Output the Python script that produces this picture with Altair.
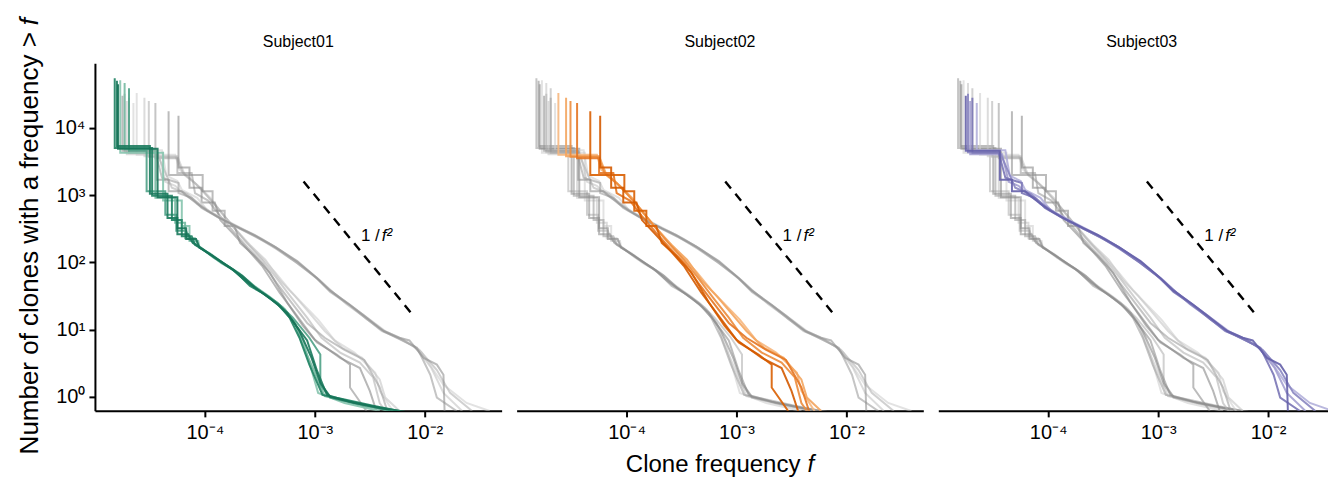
import altair as alt
import pandas as pd

SUBJECTS = ["Subject01", "Subject02", "Subject03"]

# ---- Subject01 replicates (log10 f, log10 N), light first, dark last ----
S01_LOGF = [
    [-4.77, -4.77, -4.38, -4.38, -4.21, -4.21, -4.14, -4.14, -4.06, -4.05, -3.95, -3.82, -3.68, -3.55, -3.41, -3.27, -3.16, -3.09, -3.03, -2.97, -2.73, -2.41],
    [-4.73, -4.73, -4.45, -4.45, -4.27, -4.27, -4.18, -4.18, -4.09, -4.06, -3.97, -3.85, -3.70, -3.57, -3.43, -3.29, -3.18, -3.12, -3.00, -2.91, -2.59, -2.32],
    [-4.69, -4.69, -4.53, -4.53, -4.36, -4.36, -4.26, -4.26, -4.17, -4.14, -4.05, -3.92, -3.77, -3.63, -3.48, -3.34, -3.20, -3.05, -2.95, -2.95, -2.86, -2.55, -2.27],
    [-4.82, -4.82, -4.48, -4.48, -4.30, -4.30, -4.21, -4.21, -4.12, -4.09, -4.00, -3.86, -3.73, -3.59, -3.45, -3.32, -3.23, -3.14, -3.05, -2.93, -2.75, -2.47, -2.23],
    [-4.80, -4.80, -4.50, -4.50, -4.34, -4.34, -4.25, -4.25, -4.15, -4.11, -4.02, -3.88, -3.75, -3.61, -3.48, -3.34, -3.21, -3.07, -2.98, -2.89, -2.68, -2.41, -2.18],
    [-4.79, -4.79, -4.43, -4.43, -4.25, -4.25, -4.17, -4.17, -4.08, -4.05, -3.94, -3.81, -3.66, -3.54, -3.41, -3.25, -3.14, -3.03, -2.95, -2.86, -2.64, -2.32],
]
S01_LOGN = [
    [4.71, 3.63, 3.63, 2.92, 2.92, 2.54, 2.54, 2.32, 2.32, 2.22, 2.13, 1.98, 1.83, 1.65, 1.49, 1.30, 1.03, 0.73, 0.40, 0.06, -0.09, -0.21],
    [4.67, 3.68, 3.68, 2.96, 2.96, 2.59, 2.59, 2.36, 2.36, 2.25, 2.14, 1.99, 1.85, 1.67, 1.50, 1.33, 1.10, 0.81, 0.36, 0.01, -0.10, -0.21],
    [4.59, 3.66, 3.66, 3.06, 3.06, 2.71, 2.71, 2.47, 2.47, 2.34, 2.23, 2.07, 1.92, 1.73, 1.56, 1.40, 1.18, 0.88, 0.63, 0.18, -0.01, -0.13, -0.22],
    [4.74, 3.70, 3.70, 2.99, 2.99, 2.63, 2.63, 2.39, 2.39, 2.26, 2.17, 2.02, 1.88, 1.65, 1.52, 1.36, 1.18, 0.88, 0.48, 0.03, -0.03, -0.13, -0.21],
    [4.70, 3.73, 3.73, 3.02, 3.02, 2.66, 2.66, 2.42, 2.42, 2.29, 2.20, 2.04, 1.90, 1.70, 1.55, 1.38, 1.15, 0.84, 0.39, 0.03, -0.07, -0.16, -0.22],
    [4.65, 3.69, 3.69, 2.97, 2.97, 2.51, 2.51, 2.35, 2.35, 2.22, 2.11, 1.96, 1.80, 1.62, 1.47, 1.25, 0.98, 0.58, 0.21, 0.00, -0.09, -0.19],
]
S01_COLORS = ["#86c4ae", "#74b9a1", "#4ea186", "#1f8263", "#1b7a5d", "#167358"]

# ---- Subject02 ----
S02_LOGF = [
    [-4.62, -4.62, -4.27, -4.23, -4.12, -4.00, -3.89, -3.77, -3.64, -3.50, -3.36, -3.23, -3.12, -2.97, -2.82, -2.64, -2.45, -2.41, -2.29],
    [-4.55, -4.55, -4.25, -4.18, -4.06, -3.95, -3.85, -3.73, -3.59, -3.45, -3.32, -3.18, -3.05, -2.91, -2.75, -2.57, -2.41, -2.36, -2.23],
    [-4.51, -4.51, -4.26, -4.20, -4.09, -3.98, -3.86, -3.75, -3.62, -3.48, -3.35, -3.21, -3.07, -2.94, -2.77, -2.59, -2.47, -2.41, -2.36],
    [-4.45, -4.45, -4.25, -4.25, -4.12, -4.09, -3.97, -3.86, -3.73, -3.61, -3.47, -3.35, -3.21, -3.07, -2.91, -2.73, -2.55, -2.41, -2.34],
    [-4.33, -4.33, -4.02, -4.02, -3.93, -3.93, -3.82, -3.82, -3.73, -3.68, -3.55, -3.41, -3.25, -3.11, -2.98, -2.80, -2.68, -2.68, -2.53],
    [-4.24, -4.24, -4.14, -4.14, -4.03, -4.03, -3.91, -3.86, -3.75, -3.61, -3.48, -3.32, -3.15, -3.00, -2.77, -2.59, -2.50, -2.44],
]
S02_LOGN = [
    [4.52, 3.60, 3.60, 3.38, 3.23, 3.03, 2.81, 2.59, 2.34, 2.10, 1.85, 1.59, 1.40, 1.15, 0.84, 0.66, 0.36, 0.09, -0.21],
    [4.45, 3.58, 3.58, 3.29, 3.14, 2.96, 2.74, 2.51, 2.26, 2.04, 1.74, 1.50, 1.25, 0.98, 0.73, 0.58, 0.26, -0.01, -0.21],
    [4.40, 3.57, 3.57, 3.33, 3.18, 2.99, 2.77, 2.54, 2.29, 2.04, 1.77, 1.47, 1.18, 0.88, 0.66, 0.51, 0.29, -0.09, -0.21],
    [4.37, 3.55, 3.55, 3.33, 3.33, 3.03, 2.92, 2.69, 2.44, 2.22, 1.98, 1.70, 1.40, 1.10, 0.88, 0.70, 0.55, 0.14, -0.21],
    [4.25, 3.30, 3.30, 3.06, 3.06, 2.77, 2.77, 2.54, 2.54, 2.29, 2.10, 1.85, 1.40, 1.06, 0.81, 0.63, 0.48, 0.14, -0.21],
    [4.18, 3.41, 3.41, 3.11, 3.11, 2.89, 2.89, 2.63, 2.44, 2.19, 1.95, 1.55, 1.18, 0.85, 0.58, 0.43, 0.09, -0.21],
]
S02_COLORS = ["#f6b77e", "#f3a55f", "#ec8c3c", "#e47622", "#d95f02", "#d45a00"]

# ---- Subject03 ----
S03_LOGF = [
    [-4.65, -4.65, -4.39, -4.35, -4.25, -4.21, -4.07, -3.98, -3.80, -3.62, -3.48, -3.30, -3.12, -2.95, -2.83, -2.65, -2.50, -2.35, -2.19, -2.03, -1.83, -1.62, -1.41],
    [-4.71, -4.71, -4.42, -4.36, -4.27, -4.18, -4.07, -3.94, -3.75, -3.57, -3.39, -3.21, -3.03, -2.89, -2.71, -2.55, -2.41, -2.25, -2.09, -1.94, -1.83, -1.66],
    [-4.73, -4.73, -4.44, -4.30, -4.16, -4.03, -3.89, -3.71, -3.55, -3.36, -3.16, -3.00, -2.86, -2.71, -2.55, -2.39, -2.21, -2.05, -1.89, -1.77, -1.57],
    [-4.69, -4.69, -4.45, -4.39, -4.24, -4.24, -4.12, -4.03, -3.86, -3.68, -3.53, -3.35, -3.16, -2.98, -2.86, -2.68, -2.53, -2.37, -2.23, -2.07, -1.95, -1.89, -1.71],
    [-4.75, -4.75, -4.44, -4.44, -4.33, -4.33, -4.21, -4.16, -4.07, -3.98, -3.86, -3.68, -3.55, -3.35, -3.16, -2.98, -2.86, -2.68, -2.53, -2.37, -2.23, -2.14, -2.01, -1.89, -1.83, -1.82],
]
S03_LOGN = [
    [4.37, 3.67, 3.67, 3.29, 3.21, 3.08, 2.96, 2.78, 2.62, 2.47, 2.35, 2.16, 1.95, 1.73, 1.55, 1.33, 1.15, 0.97, 0.85, 0.66, 0.18, -0.09, -0.21],
    [4.40, 3.61, 3.61, 3.20, 3.14, 3.00, 2.89, 2.74, 2.57, 2.42, 2.26, 2.05, 1.83, 1.62, 1.40, 1.21, 1.01, 0.88, 0.75, 0.43, 0.06, -0.21],
    [4.51, 3.64, 3.64, 3.11, 3.02, 2.84, 2.68, 2.53, 2.39, 2.23, 2.01, 1.79, 1.59, 1.38, 1.19, 0.98, 0.86, 0.70, 0.40, 0.06, -0.21],
    [4.45, 3.63, 3.63, 3.26, 3.18, 3.03, 2.96, 2.81, 2.65, 2.50, 2.38, 2.20, 1.99, 1.76, 1.56, 1.36, 1.16, 0.97, 0.86, 0.73, 0.33, -0.01, -0.21],
    [4.48, 3.66, 3.66, 3.23, 3.23, 3.06, 3.06, 2.99, 2.87, 2.77, 2.66, 2.51, 2.41, 2.22, 2.02, 1.77, 1.58, 1.37, 1.18, 0.98, 0.88, 0.84, 0.58, 0.48, 0.33, -0.21],
]
S03_COLORS = ["#b3b0da", "#a4a0d0", "#8a86c1", "#7a75b6", "#6560aa"]

GRAYS = ["#cfcfcf", "#c4c4c4", "#b3b3b3", "#9f9f9f", "#909090", "#888888"]

# reference slope line 1/f^2 and its label
DASH_F = [7.9e-4, 7.9e-3]
DASH_N = [1600, 16]
LABEL_F = [3.9e-3]
LABEL_N = [205]

X_TICKS = [1e-4, 1e-3, 1e-2]
X_LABELS = ["10⁻⁴", "10⁻³", "10⁻²"]
Y_TICKS = [1, 10, 100, 1000, 10000]
Y_LABELS = ["10⁰", "10¹", "10²", "10³", "10⁴"]

FONT = "Liberation Sans"

rows = []
for subj, lfs, lns, cols in [
    (SUBJECTS[0], S01_LOGF, S01_LOGN, S01_COLORS),
    (SUBJECTS[1], S02_LOGF, S02_LOGN, S02_COLORS),
    (SUBJECTS[2], S03_LOGF, S03_LOGN, S03_COLORS),
]:
    for r, (lf, ln) in enumerate(zip(lfs, lns, strict=True)):
        for i, (a, b) in enumerate(zip(lf, ln, strict=True)):
            rows.append(dict(subject=subj, key=f"{subj}-{r}", idx=i,
                             f=10 ** a, n=10 ** b, col=cols[r], gcol=GRAYS[r]))
df = pd.DataFrame(rows)
dash_df = pd.DataFrame({"f": DASH_F, "n": DASH_N})
lab_df = pd.DataFrame({"f": LABEL_F, "n": LABEL_N})
one = pd.DataFrame({"a": [0]})


def label_expr(ticks, labels):
    import math
    expr = "''"
    for t, l in reversed(list(zip(ticks, labels))):
        k = round(math.log10(t))
        expr = f"round(log(datum.value)/LN10) == {k} ? '{l}' : ({expr})"
    return expr


H = 348
YDOM = [0.62, 92000]


def panel(p, width, xmax, first=False, middle=False):
    xs = alt.Scale(type="log", domain=[1e-5, xmax], nice=False)
    ys = alt.Scale(type="log", domain=YDOM, nice=False)
    xaxis = alt.Axis(values=X_TICKS, labelExpr=label_expr(X_TICKS, X_LABELS),
                     title=None, grid=False, labelOverlap=False, labelFlush=False,
                     labelPadding=6)
    yaxis = (alt.Axis(values=Y_TICKS, labelExpr=label_expr(Y_TICKS, Y_LABELS),
                      title=None, grid=False, labelOverlap=False, labelFlush=False,
                      labelPadding=4)
             if first else None)
    xenc = alt.X("f:Q", scale=xs, axis=xaxis)
    yenc = alt.Y("n:Q", scale=ys, axis=yaxis)

    base = alt.Chart(df).encode(x=xenc, y=yenc, detail="key:N", order="idx:Q")
    gray = base.transform_filter(alt.datum.subject != p).mark_line(
        clip=True, strokeWidth=2, opacity=0.6
    ).encode(color=alt.Color("gcol:N", scale=None))
    colored = base.transform_filter(alt.datum.subject == p).mark_line(
        clip=True, strokeWidth=2, opacity=0.9
    ).encode(color=alt.Color("col:N", scale=None))
    dash = alt.Chart(dash_df).mark_line(
        color="black", strokeDash=[9, 7], strokeWidth=2.4
    ).encode(x=xenc, y=yenc)
    lab1 = alt.Chart(lab_df).mark_text(
        text="1 /", align="right", baseline="alphabetic", font=FONT,
        fontSize=17, color="black"
    ).encode(x=xenc, y=yenc)
    lab2 = alt.Chart(lab_df).mark_text(
        text="f²", align="left", baseline="alphabetic", font=FONT,
        fontSize=17, fontStyle="italic", color="black", dx=2
    ).encode(x=xenc, y=yenc)
    ptitle = alt.Chart(one).mark_text(
        text=p, align="center", baseline="alphabetic", font=FONT,
        fontSize=16, color="black"
    ).encode(x=alt.value(203.5), y=alt.value(-16))
    layers = [gray, colored, dash, lab1, lab2, ptitle]
    if first:
        yt1 = alt.Chart(one).mark_text(
            text="Number of clones with a frequency >", angle=270, align="right",
            baseline="middle", font=FONT, fontSize=26, color="black"
        ).encode(x=alt.value(-65), y=alt.value(-31))
        yt2 = alt.Chart(one).mark_text(
            text="f", angle=270, align="left", baseline="middle", font=FONT,
            fontSize=26, fontStyle="italic", color="black"
        ).encode(x=alt.value(-65), y=alt.value(-38))
        layers += [yt1, yt2]
    if middle:
        xt1 = alt.Chart(one).mark_text(
            text="Clone frequency", align="right", baseline="alphabetic",
            font=FONT, fontSize=24, color="black"
        ).encode(x=alt.value(284), y=alt.value(H + 61))
        xt2 = alt.Chart(one).mark_text(
            text="f", align="left", baseline="alphabetic", font=FONT,
            fontSize=24, fontStyle="italic", color="black"
        ).encode(x=alt.value(291), y=alt.value(H + 61))
        layers += [xt1, xt2]
    return alt.layer(*layers).properties(width=width, height=H)


chart = alt.hconcat(
    panel(SUBJECTS[0], 407, 0.05, first=True),
    panel(SUBJECTS[1], 407, 0.05, middle=True),
    panel(SUBJECTS[2], 390, 10 ** -1.455),
    spacing=15,
).properties(
    padding={"left": 9, "top": 9, "right": 0, "bottom": 0}
).configure_axis(
    domainColor="black", domainWidth=2, tickColor="black", tickWidth=2,
    tickSize=6, labelColor="black", labelFont=FONT, labelFontSize=20,
).configure_view(stroke=None)

chart.save("out.html", embed_options={"renderer": "svg", "actions": False})
